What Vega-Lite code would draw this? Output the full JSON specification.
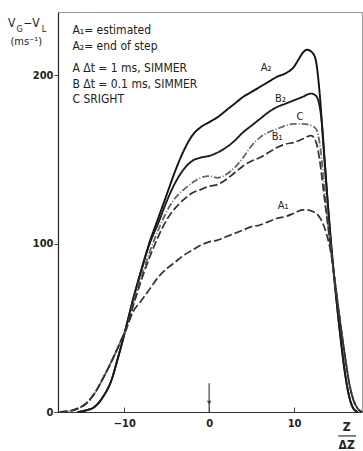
{
  "$schema": "https://vega.github.io/schema/vega-lite/v6.json",
  "width": 304,
  "height": 400,
  "autosize": {"type": "none"},
  "padding": {"left": 58, "top": 12, "right": 1, "bottom": 39},
  "background": "white",
  "config": {
    "view": {"stroke": "#999", "strokeWidth": 1},
    "font": "DejaVu Sans Condensed, sans-serif"
  },
  "datasets": {
    "curves": [
      {"s":"A2","z":-15.5,"v":0},{"s":"A2","z":-14.5,"v":1},{"s":"A2","z":-13.5,"v":3},{"s":"A2","z":-12.5,"v":9},{"s":"A2","z":-11.5,"v":19},{"s":"A2","z":-10.8,"v":31},{"s":"A2","z":-10,"v":46},{"s":"A2","z":-9.5,"v":56},{"s":"A2","z":-9,"v":66},{"s":"A2","z":-8,"v":84},{"s":"A2","z":-7,"v":101},{"s":"A2","z":-6,"v":115},{"s":"A2","z":-5,"v":129},{"s":"A2","z":-4,"v":143},{"s":"A2","z":-3,"v":155},{"s":"A2","z":-2,"v":164},{"s":"A2","z":-1,"v":169},{"s":"A2","z":0,"v":172},{"s":"A2","z":1,"v":175},{"s":"A2","z":2,"v":179},{"s":"A2","z":3,"v":183},{"s":"A2","z":4,"v":187},{"s":"A2","z":5,"v":190},{"s":"A2","z":6,"v":193},{"s":"A2","z":7,"v":196},{"s":"A2","z":8,"v":199},{"s":"A2","z":9,"v":201},{"s":"A2","z":10,"v":205},{"s":"A2","z":10.5,"v":209},{"s":"A2","z":11,"v":213},{"s":"A2","z":11.5,"v":215},{"s":"A2","z":12,"v":214},{"s":"A2","z":12.5,"v":210},{"s":"A2","z":13,"v":190},{"s":"A2","z":13.5,"v":155},{"s":"A2","z":14,"v":122},{"s":"A2","z":14.5,"v":92},{"s":"A2","z":15,"v":66},{"s":"A2","z":15.5,"v":43},{"s":"A2","z":16,"v":23},{"s":"A2","z":16.5,"v":9},{"s":"A2","z":17,"v":2},{"s":"A2","z":17.5,"v":0},
      {"s":"B2","z":-15.5,"v":0},{"s":"B2","z":-14.5,"v":1},{"s":"B2","z":-13.5,"v":3},{"s":"B2","z":-12.5,"v":9},{"s":"B2","z":-11.5,"v":19},{"s":"B2","z":-10.8,"v":31},{"s":"B2","z":-10,"v":46},{"s":"B2","z":-9.5,"v":56},{"s":"B2","z":-9,"v":66},{"s":"B2","z":-8,"v":84},{"s":"B2","z":-7,"v":100},{"s":"B2","z":-6,"v":112},{"s":"B2","z":-5,"v":125},{"s":"B2","z":-4,"v":136},{"s":"B2","z":-3,"v":144},{"s":"B2","z":-2,"v":149},{"s":"B2","z":-1,"v":151},{"s":"B2","z":0,"v":152},{"s":"B2","z":1,"v":154},{"s":"B2","z":2,"v":157},{"s":"B2","z":3,"v":161},{"s":"B2","z":4,"v":166},{"s":"B2","z":5,"v":170},{"s":"B2","z":6,"v":174},{"s":"B2","z":7,"v":178},{"s":"B2","z":8,"v":181},{"s":"B2","z":9,"v":183},{"s":"B2","z":10,"v":185},{"s":"B2","z":11,"v":187},{"s":"B2","z":12,"v":189},{"s":"B2","z":12.5,"v":188},{"s":"B2","z":12.9,"v":184},{"s":"B2","z":13.3,"v":170},{"s":"B2","z":13.6,"v":150},{"s":"B2","z":14,"v":122},{"s":"B2","z":14.5,"v":92},{"s":"B2","z":15,"v":66},{"s":"B2","z":15.5,"v":43},{"s":"B2","z":16,"v":23},{"s":"B2","z":16.5,"v":9},{"s":"B2","z":17,"v":2},{"s":"B2","z":17.5,"v":0},
      {"s":"C","z":-17.6,"v":0},{"s":"C","z":-16.5,"v":0.5},{"s":"C","z":-15.5,"v":2},{"s":"C","z":-14.5,"v":5},{"s":"C","z":-13.5,"v":11},{"s":"C","z":-12.5,"v":20},{"s":"C","z":-11.5,"v":30},{"s":"C","z":-10.5,"v":41},{"s":"C","z":-9.5,"v":53},{"s":"C","z":-9,"v":63},{"s":"C","z":-8,"v":80},{"s":"C","z":-7,"v":95},{"s":"C","z":-6,"v":108},{"s":"C","z":-5,"v":119},{"s":"C","z":-4,"v":127},{"s":"C","z":-3,"v":132},{"s":"C","z":-2,"v":136},{"s":"C","z":-1,"v":139},{"s":"C","z":0,"v":140},{"s":"C","z":1,"v":139},{"s":"C","z":2,"v":141},{"s":"C","z":3,"v":145},{"s":"C","z":4,"v":151},{"s":"C","z":5,"v":158},{"s":"C","z":6,"v":163},{"s":"C","z":7,"v":166},{"s":"C","z":8,"v":168},{"s":"C","z":9,"v":170},{"s":"C","z":10,"v":171},{"s":"C","z":11,"v":171},{"s":"C","z":12,"v":170},{"s":"C","z":12.6,"v":168},{"s":"C","z":13,"v":160},{"s":"C","z":13.5,"v":138},{"s":"C","z":14,"v":112},{"s":"C","z":14.5,"v":90},{"s":"C","z":15,"v":70},{"s":"C","z":15.5,"v":51},{"s":"C","z":16,"v":33},{"s":"C","z":16.5,"v":17},{"s":"C","z":17,"v":7},{"s":"C","z":17.5,"v":2},{"s":"C","z":18,"v":0},
      {"s":"B1","z":-17.6,"v":0},{"s":"B1","z":-16.5,"v":0.5},{"s":"B1","z":-15.5,"v":2},{"s":"B1","z":-14.5,"v":5},{"s":"B1","z":-13.5,"v":11},{"s":"B1","z":-12.5,"v":20},{"s":"B1","z":-11.5,"v":30},{"s":"B1","z":-10.5,"v":41},{"s":"B1","z":-9.5,"v":53},{"s":"B1","z":-9,"v":62},{"s":"B1","z":-8,"v":78},{"s":"B1","z":-7,"v":92},{"s":"B1","z":-6,"v":104},{"s":"B1","z":-5,"v":114},{"s":"B1","z":-4,"v":121},{"s":"B1","z":-3,"v":126},{"s":"B1","z":-2,"v":130},{"s":"B1","z":-1,"v":132},{"s":"B1","z":0,"v":134},{"s":"B1","z":1,"v":135},{"s":"B1","z":2,"v":138},{"s":"B1","z":3,"v":142},{"s":"B1","z":4,"v":146},{"s":"B1","z":5,"v":149},{"s":"B1","z":6,"v":151},{"s":"B1","z":7,"v":154},{"s":"B1","z":8,"v":157},{"s":"B1","z":9,"v":159},{"s":"B1","z":10,"v":160},{"s":"B1","z":11,"v":162},{"s":"B1","z":12,"v":164},{"s":"B1","z":12.6,"v":160},{"s":"B1","z":13,"v":150},{"s":"B1","z":13.5,"v":130},{"s":"B1","z":14,"v":110},{"s":"B1","z":14.5,"v":90},{"s":"B1","z":15,"v":70},{"s":"B1","z":15.5,"v":51},{"s":"B1","z":16,"v":33},{"s":"B1","z":16.5,"v":17},{"s":"B1","z":17,"v":7},{"s":"B1","z":17.5,"v":2},{"s":"B1","z":18,"v":0},
      {"s":"A1","z":-17.6,"v":0},{"s":"A1","z":-16.5,"v":0.5},{"s":"A1","z":-15.5,"v":2},{"s":"A1","z":-14.5,"v":5},{"s":"A1","z":-13.5,"v":11},{"s":"A1","z":-12.5,"v":20},{"s":"A1","z":-11.5,"v":30},{"s":"A1","z":-10.5,"v":41},{"s":"A1","z":-9.5,"v":53},{"s":"A1","z":-9,"v":59},{"s":"A1","z":-8,"v":66},{"s":"A1","z":-7,"v":73},{"s":"A1","z":-6,"v":80},{"s":"A1","z":-5,"v":85},{"s":"A1","z":-4,"v":89},{"s":"A1","z":-3,"v":93},{"s":"A1","z":-2,"v":96},{"s":"A1","z":-1,"v":99},{"s":"A1","z":0,"v":101},{"s":"A1","z":1,"v":102},{"s":"A1","z":2,"v":104},{"s":"A1","z":3,"v":106},{"s":"A1","z":4,"v":108},{"s":"A1","z":5,"v":110},{"s":"A1","z":6,"v":111},{"s":"A1","z":7,"v":113},{"s":"A1","z":8,"v":115},{"s":"A1","z":9,"v":116},{"s":"A1","z":10,"v":118},{"s":"A1","z":11,"v":120},{"s":"A1","z":11.6,"v":120},{"s":"A1","z":12.2,"v":119},{"s":"A1","z":12.8,"v":117},{"s":"A1","z":13.3,"v":113},{"s":"A1","z":13.8,"v":106},{"s":"A1","z":14.2,"v":98},{"s":"A1","z":14.6,"v":86},{"s":"A1","z":15,"v":70},{"s":"A1","z":15.5,"v":51},{"s":"A1","z":16,"v":33},{"s":"A1","z":16.5,"v":17},{"s":"A1","z":17,"v":7},{"s":"A1","z":17.5,"v":2},{"s":"A1","z":18,"v":0}
    ],
    "curveLabels": [
      {"t":"A₂","z":6.7,"v":204},
      {"t":"B₂","z":8.4,"v":186},
      {"t":"C","z":10.7,"v":175},
      {"t":"B₁","z":8.0,"v":163},
      {"t":"A₁","z":8.7,"v":122}
    ],
    "legendText": [
      {"t":"A₁=  estimated","z":-16.1,"v":227},
      {"t":"A₂=  end of step","z":-16.1,"v":217},
      {"t":"A  Δt = 1 ms, SIMMER","z":-16.1,"v":204},
      {"t":"B  Δt = 0.1 ms, SIMMER","z":-16.1,"v":194.5},
      {"t":"C  SRIGHT","z":-16.1,"v":185.5}
    ],
    "ytitleBig": [
      {"t":"V","z":-23.7,"v":230.9},
      {"t":"−V","z":-21.9,"v":230.9}
    ],
    "ytitleSmall": [
      {"t":"G","z":-22.7,"v":227.4},
      {"t":"L","z":-19.7,"v":227.4}
    ],
    "units": [{"t":"(ms⁻¹)","z":-23.4,"v":219.6}],
    "xtitle": [
      {"t":"Z","z":16.2,"v":-8.9},
      {"t":"ΔZ","z":16.2,"v":-19.8}
    ],
    "frac": [{"z1":15.2,"z2":17.3,"v":-14.2}],
    "arrow": [{"z":0,"v1":0,"v2":17,"vh":5.5}]
  },
  "layer": [
    {
      "data": {"name": "curves"},
      "mark": {"type": "line", "interpolate": "monotone"},
      "encoding": {
        "x": {"field": "z", "type": "quantitative",
          "scale": {"domain": [-17.8, 18.0], "nice": false, "zero": false},
          "axis": {"values": [-10, 0, 10], "title": null, "grid": false,
            "tickSize": -5, "tickColor": "#444", "labelPadding": 10,
            "domainColor": "#333", "domainWidth": 1.2,
            "labelFontSize": 11, "labelFontWeight": "bold", "labelColor": "#222",
            "labelFont": "DejaVu Sans Condensed, sans-serif"}},
        "y": {"field": "v", "type": "quantitative",
          "scale": {"domain": [0, 237.4], "nice": false},
          "axis": {"values": [0, 100, 200], "title": null, "grid": false,
            "tickSize": 4, "tickColor": "#444", "labelPadding": 1,
            "domainColor": "#222", "domainWidth": 1.2,
            "labelFontSize": 11, "labelFontWeight": "bold", "labelColor": "#222",
            "labelFont": "DejaVu Sans Condensed, sans-serif"}},
        "detail": {"field": "s"},
        "color": {"field": "s", "type": "nominal", "legend": null,
          "scale": {"domain": ["A2","B2","C","B1","A1"], "range": ["#111","#1a1a1a","#666","#333","#333"]}},
        "strokeDash": {"field": "s", "type": "nominal", "legend": null,
          "scale": {"domain": ["A2","B2","C","B1","A1"], "range": [[1,0],[1,0],[7,2,1,2],[8,3],[8,3]]}},
        "strokeWidth": {"field": "s", "type": "nominal", "legend": null,
          "scale": {"domain": ["A2","B2","C","B1","A1"], "range": [1.9,1.7,1.1,1.5,1.5]}}
      }
    },
    {
      "data": {"name": "curveLabels"},
      "mark": {"type": "text", "fontSize": 11, "color": "#222", "font": "DejaVu Sans Condensed, sans-serif"},
      "encoding": {
        "x": {"field": "z", "type": "quantitative"},
        "y": {"field": "v", "type": "quantitative"},
        "text": {"field": "t"}
      }
    },
    {
      "data": {"name": "legendText"},
      "mark": {"type": "text", "fontSize": 12, "align": "left", "color": "#222", "font": "DejaVu Sans Condensed, sans-serif"},
      "encoding": {
        "x": {"field": "z", "type": "quantitative"},
        "y": {"field": "v", "type": "quantitative"},
        "text": {"field": "t"}
      }
    },
    {
      "data": {"name": "ytitleBig"},
      "mark": {"type": "text", "fontSize": 12, "align": "left", "color": "#222", "font": "DejaVu Sans Condensed, sans-serif"},
      "encoding": {
        "x": {"field": "z", "type": "quantitative"},
        "y": {"field": "v", "type": "quantitative"},
        "text": {"field": "t"}
      }
    },
    {
      "data": {"name": "ytitleSmall"},
      "mark": {"type": "text", "fontSize": 9, "align": "left", "color": "#222", "font": "DejaVu Sans Condensed, sans-serif"},
      "encoding": {
        "x": {"field": "z", "type": "quantitative"},
        "y": {"field": "v", "type": "quantitative"},
        "text": {"field": "t"}
      }
    },
    {
      "data": {"name": "units"},
      "mark": {"type": "text", "fontSize": 11, "align": "left", "color": "#222", "font": "DejaVu Sans Condensed, sans-serif"},
      "encoding": {
        "x": {"field": "z", "type": "quantitative"},
        "y": {"field": "v", "type": "quantitative"},
        "text": {"field": "t"}
      }
    },
    {
      "data": {"name": "xtitle"},
      "mark": {"type": "text", "fontSize": 12, "fontWeight": "bold", "color": "#222", "font": "DejaVu Sans Condensed, sans-serif"},
      "encoding": {
        "x": {"field": "z", "type": "quantitative"},
        "y": {"field": "v", "type": "quantitative"},
        "text": {"field": "t"}
      }
    },
    {
      "data": {"name": "frac"},
      "mark": {"type": "rule", "color": "#333", "strokeWidth": 1.2},
      "encoding": {
        "x": {"field": "z1", "type": "quantitative"},
        "x2": {"field": "z2"},
        "y": {"field": "v", "type": "quantitative"}
      }
    },
    {
      "data": {"name": "arrow"},
      "mark": {"type": "rule", "color": "#444", "strokeWidth": 1.2},
      "encoding": {
        "x": {"field": "z", "type": "quantitative"},
        "y": {"field": "v1", "type": "quantitative"},
        "y2": {"field": "v2"}
      }
    },
    {
      "data": {"name": "arrow"},
      "mark": {"type": "point", "shape": "triangle-down", "filled": true, "color": "#444", "size": 22, "opacity": 1},
      "encoding": {
        "x": {"field": "z", "type": "quantitative"},
        "y": {"field": "vh", "type": "quantitative"}
      }
    }
  ]
}
